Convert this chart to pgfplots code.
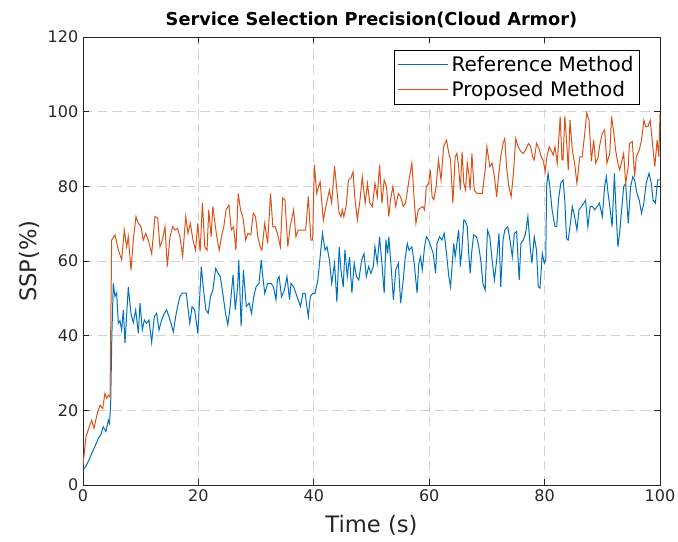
\documentclass[border=0pt]{standalone}
\usepackage{fontspec}
\setmainfont{DejaVu Sans}
\usepackage{pgfplots}
\pgfplotsset{compat=1.18}
\usepackage{pgfplotstable}
\definecolor{mblue}{rgb}{0,0.447,0.741}
\definecolor{morange}{rgb}{0.85,0.325,0.098}
\definecolor{axgray}{rgb}{0.15,0.15,0.15}

\pgfplotstableread{
t v
0 4.0
0.5 5.0
0.92 6.3
1.4 8.0
1.79 9.4
2.2 10.8
2.66 12.5
3.06 13.4
3.5 15.6
3.98 14.3
4.39 17.4
4.6 16.5
4.8 22
5.0 40
5.25 54
5.54 50.5
5.83 51.5
6.12 43.3
6.41 44
6.7 41.5
6.99 46.9
7.28 38
7.85 53
8.32 45.8
8.72 43.5
9.13 46.9
9.59 40.6
9.88 48.7
10.28 41.5
10.63 44.2
11.03 43.3
11.44 44.2
11.9 38.2
12.36 45.1
12.76 46
13.17 41.5
13.63 44.2
14.09 46
14.5 46.9
14.9 45.1
15.25 43.3
15.65 41
16.06 45.1
16.4 47.8
16.8 50.5
17.2 51.4
17.9 51.4
18.5 43.3
18.9 47.8
19.35 46.9
19.9 40.6
20.5 58.5
20.9 52.2
21.3 46.9
21.7 46
22.1 50.5
22.5 52.2
23.0 58
23.4 56.7
23.8 55.8
24.3 50.5
24.7 46
25.1 42.9
25.5 47.8
26.0 56.3
26.4 46.9
26.8 53.1
27.0 60.3
27.4 42.5
27.8 57.6
28.3 47.8
28.8 48.7
29.2 46
29.6 50.5
30.0 53.1
30.5 54
30.9 60.3
31.1 56.7
31.5 51.3
32.0 54
32.6 54
33.0 53.1
33.45 49.6
33.7 54.9
34.0 55.8
34.4 50.4
34.9 52.2
35.35 55.8
35.8 49.6
36.05 54
36.5 53.1
36.9 51.3
37.3 49.6
37.7 47.8
38.1 51.3
38.5 51.3
38.8 47.8
39.05 45.1
39.4 50.5
39.8 51.3
40.2 51.3
40.7 54.9
41.1 61.1
41.5 67.4
41.95 62.9
42.3 63.8
42.7 60.3
43.1 54
43.6 59.4
44.0 49
44.4 63.8
44.7 57.6
45.1 53.1
45.4 63.0
45.8 55.8
46.2 61.1
46.6 51.4
47.0 59.4
47.4 55.8
47.8 54.9
48.3 60.3
48.7 62.0
49.1 55.8
49.5 58.5
49.9 56.7
50.3 58.5
50.6 63.8
51.0 59.4
51.4 66.5
51.8 59.4
52.2 51.4
52.5 65.7
52.8 62.0
53.0 66.5
53.4 58.5
53.8 49.6
54.2 57.6
54.65 59.4
55.05 48.7
55.5 54.9
55.8 60.3
56.2 64.7
56.5 62.9
57.0 63.8
57.4 59.4
57.9 51.4
58.2 59.4
58.5 61.1
58.8 57.6
59.2 63.8
59.5 66.5
59.9 65.6
60.3 63.8
60.7 62.0
61.1 56.7
61.35 64.7
61.8 66.5
62.2 65.6
62.6 67.4
63.0 62.0
63.4 55.8
63.7 53.1
64.0 59.4
64.25 64.7
64.5 61.1
64.8 64.7
65.1 68.3
65.4 58.5
65.7 63.8
66.0 71
66.3 70.5
66.6 69.2
66.85 62.0
67.1 56.7
67.4 62.9
67.7 67
68.2 66.5
68.6 63.8
69.0 59.4
69.3 54
69.7 52.2
70.1 68.3
70.5 66.5
70.9 60.3
71.3 54.9
71.7 60.3
72.1 67.4
72.4 53.1
72.8 65.6
73.1 68.3
73.6 69.2
74.0 65.6
74.4 61.1
74.75 67.4
75.15 67.9
75.6 54.9
75.9 64.7
76.3 65.6
76.7 67.4
77.1 71.9
77.5 63.8
77.8 59.4
78.2 66.5
78.6 62.9
78.9 53.1
79.2 52.7
79.6 62.0
79.95 59.4
80.2 60.3
80.35 79.9
80.6 83.5
80.9 79.9
81.3 73.7
81.8 69.2
82.1 69.2
82.4 76.3
82.8 80.8
83.2 81.7
83.5 76.3
83.8 66
84.1 65.6
84.4 69.2
84.8 74.6
85.2 71.9
85.6 68.3
85.96 73.7
86.4 74.6
86.8 75.5
87.1 76.3
87.5 69.2
87.9 74.6
88.3 74.6
88.7 73.7
89.1 74.6
89.5 75.5
90.0 71.9
90.4 79.9
90.7 82.6
91.0 78.1
91.3 74.6
91.7 69.2
92.1 83.5
92.4 72.8
92.7 63.8
93.0 67.4
93.3 72.8
93.7 79.9
94.05 80.8
94.5 70.1
94.9 79.9
95.3 82.6
95.6 81.7
96.0 78.1
96.4 76.3
96.8 72.8
97.2 75.5
97.6 80.8
98.1 83.5
98.5 80.8
98.8 76.3
99.2 75.5
99.6 81.7
100 81.7
}\refdata

\pgfplotstableread{
t v
0 5.3
0.52 12.9
1.1 15.6
1.5 17.4
1.9 15.2
2.48 19.2
2.95 21.4
3.41 20.5
3.8 24.5
4.1 23.2
4.45 24.1
4.68 23.6
4.97 65.6
5.54 67
6.12 63
6.7 60.3
7.16 68.3
7.56 63.8
7.85 66.5
8.32 57.6
8.72 65.6
9.18 71.9
9.59 70.1
10.05 69.2
10.45 65.6
10.86 67.4
11.32 65.6
11.9 62.0
12.48 71.9
12.94 71.5
13.34 63.8
13.75 65.6
14.21 69.2
14.61 58.5
15.08 66.5
15.54 69.2
15.94 68.3
16.4 68.7
16.8 66.5
17.27 61.2
17.8 71.9
18.2 67.4
18.6 70.1
19.06 65.6
19.5 62.9
19.9 70.1
20.3 62.5
20.7 75.6
21.1 63.8
21.5 62.9
21.8 73.7
22.2 66.5
22.5 74.6
23.1 67.4
23.6 62.9
24.0 66.5
24.4 69.2
24.8 73.7
25.3 75
25.7 68.3
26.1 69.2
26.5 62.9
26.9 78.1
27.3 73.7
27.7 71.9
28.2 65.6
28.6 67.4
29.1 67
29.5 72.8
29.9 71.9
30.3 66.5
30.7 63.8
31.0 62.9
31.5 70.1
32.0 64.7
32.5 78.1
32.9 69.2
33.3 69.2
33.7 67.4
34.2 63.8
34.6 76.9
35.0 76.4
35.5 63.8
35.9 69.2
36.5 73.7
36.9 66.5
37.3 68.3
37.8 68.3
38.2 68.3
38.6 68.3
39.05 77.3
39.5 65.6
39.8 65.6
40.1 85.8
40.5 78.1
40.8 79.9
41.1 81.2
41.65 70.9
42.1 74.6
42.7 79
43.1 75.5
43.6 85.4
44.0 79
44.4 72.8
44.7 71.9
44.95 73.7
45.2 71.9
45.6 74.6
46.0 81.7
46.4 82.1
46.8 83.9
47.1 77.2
47.55 71
47.95 75.5
48.4 82.6
48.9 75.5
49.3 80.8
49.7 75.5
50.15 74.6
50.6 80.8
51.0 77.2
51.4 85.8
51.8 75.5
52.2 81.7
52.6 79.9
53.0 71.9
53.3 76.4
53.7 79.9
54.2 74.6
54.65 78.1
55.05 77.2
55.5 74.6
55.9 75.5
56.5 81.7
57.0 86.2
57.4 76.4
57.7 70.1
58.1 73.7
58.5 74.2
58.9 74.6
59.2 73.7
59.5 79.9
59.9 80.8
60.2 84.4
60.5 77.2
60.8 76.4
61.2 79.9
61.6 87.1
62.05 81.7
62.5 90.6
63.0 92.4
63.4 88.8
63.7 87.1
64.1 75.5
64.5 87.9
64.8 88.8
65.1 85.3
65.4 79
65.7 89.3
66.0 80.8
66.3 79
66.6 86.2
66.85 83.5
67.1 79
67.4 88.8
67.8 79
68.3 78.1
68.75 78.1
69.2 78.1
69.7 84.4
70.0 90.6
70.5 85.3
70.9 86.2
71.3 82.6
71.7 77.2
72.0 82.6
72.4 88
72.8 91.5
73.1 92.8
73.4 85.3
73.8 79.9
74.2 77.2
74.6 83.5
75.0 92.8
75.4 90.6
75.9 89.3
76.3 88.8
76.7 89.7
77.2 91.5
77.6 90.6
77.9 88
78.2 87.1
78.6 91.5
79.0 90.2
79.4 88
79.8 86.7
80.1 84
80.4 88
80.8 90.6
81.1 89.7
81.5 88.4
81.8 90.6
82.2 86.2
82.7 98.7
83.0 87.1
83.2 87.1
83.5 98.7
83.8 92.4
84.1 84.4
84.4 97.7
84.8 89.7
85.2 86.2
85.6 80.8
86.1 87.9
86.5 87.9
86.9 93.3
87.3 99.6
87.7 97.7
88.1 86.7
88.5 92.4
88.85 86.2
89.3 87.9
89.5 90.6
90.0 94.2
90.4 95.1
90.8 86.2
91.3 88.8
91.6 98.7
92.0 94.2
92.3 89.7
92.7 86.2
93.0 84.4
93.3 86.2
93.7 88.8
94.05 80.8
94.5 85.3
94.7 91.5
95.2 92
95.6 82.6
95.9 87.9
96.4 89.7
96.8 92.4
97.2 97.7
97.5 96
97.9 96
98.3 97.7
98.7 91.5
99.1 85.3
99.5 92.4
99.8 87.9
100 99.6
}\propdata

\begin{document}
\begin{tikzpicture}
\useasboundingbox (-62.25pt,-42.75pt) rectangle (446.25pt,363.75pt);
\begin{axis}[
  at={(0pt,0pt)}, anchor=south west,
  scale only axis,
  width=432.75pt, height=336pt,
  xmin=0, xmax=100, ymin=0, ymax=120,
  xtick={0,20,...,100}, ytick={0,20,...,120},
  /pgf/number format/assume math mode=true,
  tick label style={font=\fontsize{12}{14}\selectfont, color=axgray},
  tick align=inside,
  major tick length=4.5pt,
  tick style={color=axgray, line width=0.5pt},
  axis line style={color=axgray, line width=0.6pt},
  grid=major,
  major grid style={color=gray!35, dash pattern=on 7pt off 4pt, line width=0.5pt},
  title={Service Selection Precision(Cloud Armor)},
  title style={font=\bfseries\fontsize{13.3}{15}\selectfont, yshift=-3pt},
  xlabel={Time (s)},
  ylabel={SSP(\%)},
  label style={font=\fontsize{17}{19}\selectfont, color=axgray},
  xlabel style={yshift=-3pt},
  ylabel style={yshift=-1pt},
  legend style={at={(1,1)}, anchor=north east, xshift=-15pt, yshift=-9.75pt,
    draw=black, line width=0.5pt, fill=white, font=\fontsize{15}{17}\selectfont,
    inner sep=2.5pt, row sep=1.5pt},
  legend cell align=left,
  legend image code/.code={\draw[#1, line width=0.8pt] (0pt,0pt) -- (38pt,0pt);},
]
\addplot[color=mblue, line width=0.75pt] table[x=t, y=v] {\refdata};
\addlegendentry{Reference Method}
\addplot[color=morange, line width=0.75pt] table[x=t, y=v] {\propdata};
\addlegendentry{Proposed Method}
\end{axis}
\end{tikzpicture}
\end{document}
